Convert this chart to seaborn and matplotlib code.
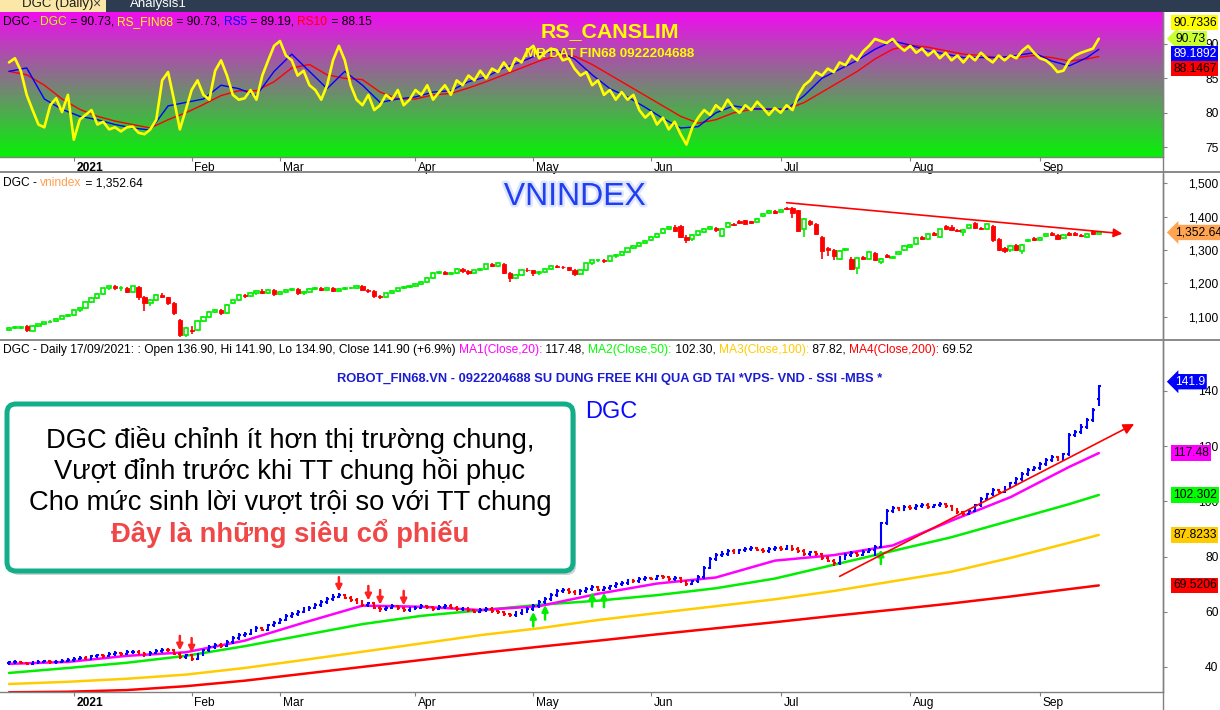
import numpy as np
import pandas as pd
import matplotlib
matplotlib.use('Agg')
import matplotlib.pyplot as plt
import seaborn as sns
from matplotlib.colors import LinearSegmentedColormap
from matplotlib.patches import FancyBboxPatch, Rectangle
from matplotlib.lines import Line2D
from matplotlib.text import Annotation
from matplotlib.transforms import IdentityTransform, ScaledTranslation
import matplotlib.patheffects as pe

# ------------------------------------------------------------------ data
holidays = ['2021-01-01', '2021-02-10', '2021-02-11', '2021-02-12', '2021-02-15',
            '2021-02-16', '2021-04-21', '2021-04-30', '2021-05-03', '2021-09-02', '2021-09-03']
start_date, end_date = '2020-12-17', '2021-10-01'

rs_fin68 = [87.3, 87.9, 86.1, 82.6, 80.4, 78.3, 77.9, 81.1, 82.1, 80.1,
            82.6, 76.1, 79.0, 79.7, 80.4, 78.3, 78.7, 77.6, 77.9, 77.3,
            77.9, 78.0, 77.1, 76.9, 77.6, 79.0, 84.7, 85.9, 81.9, 77.6,
            80.4, 83.3, 84.7, 82.6, 81.9, 86.1, 87.6, 85.4, 82.6, 81.9,
            82.1, 83.3, 81.9, 85.4, 87.6, 89.7, 90.4, 88.3, 87.6, 85.4,
            86.1, 84.0, 83.3, 81.9, 84.0, 87.6, 89.7, 87.6, 84.0, 81.9,
            81.1, 82.6, 80.4, 81.1, 82.6, 81.9, 83.3, 81.1, 81.9, 83.3,
            82.6, 84.0, 81.9, 83.0, 84.0, 82.6, 84.7, 84.0, 85.4, 84.7,
            86.1, 85.0, 86.4, 85.9, 87.3, 86.1, 87.9, 87.3, 89.0, 89.7,
            87.9, 88.7, 89.3, 89.0, 87.6, 87.9, 86.4, 85.4, 85.9, 84.0,
            84.7, 82.6, 83.3, 81.9, 83.0, 81.9, 82.6, 80.4, 79.3, 80.1,
            78.3, 79.3, 77.6, 78.7, 76.9, 75.4, 77.9, 79.3, 80.4, 79.7,
            81.1, 80.4, 81.9, 80.7, 80.0, 81.1, 80.4, 81.6, 80.7, 79.7,
            80.7, 80.0, 81.1, 80.4, 82.6, 84.0, 84.7, 85.9, 85.4, 86.4,
            85.9, 87.3, 86.9, 88.3, 87.6, 88.9, 89.7, 90.7, 90.4, 90.1,
            90.7, 89.7, 89.0, 89.7, 88.7, 89.3, 88.3, 89.0, 87.9, 88.7,
            87.6, 88.3, 87.3, 88.3, 87.6, 88.7, 87.9, 87.3, 88.3, 87.6,
            88.3, 87.9, 89.0, 89.7, 88.7, 87.9, 87.6, 86.9, 85.9, 86.1,
            87.6, 88.3, 88.7, 89.0, 89.3, 90.73]
# RS5 / RS10 sampled every third session (+ last session)
rs5 = [86, 86.5, 82, 80.5, 79.5, 79, 78.3, 77.8, 77.5, 81,
       81.5, 82, 84, 83.5, 82.5, 86, 88.5, 86, 83.5, 86,
       84, 81.5, 82, 82.3, 83, 83.2, 84.5, 85.2, 86.5, 87.4,
       88.5, 89, 87.8, 85.5, 83.5, 82.3, 80.8, 79.2, 77.8, 78,
       80, 81, 80.6, 80.5, 80.5, 82.5, 85, 86.3, 87.6, 89.2,
       90.4, 89.8, 89, 88.5, 88, 88, 88, 88.3, 88.7, 87.5,
       86.8, 88, 89.19]
rs10 = [86, 85.5, 84, 82, 80.5, 79.5, 78.8, 78.3, 77.8, 79,
        80, 81.2, 82.5, 83.2, 83.2, 84.5, 86.5, 87, 85.5, 85,
        84.8, 83, 82, 82, 82.6, 82.8, 83.6, 84.5, 85.5, 86.5,
        87.5, 88.3, 88.2, 87, 85.5, 84, 82.5, 81, 79.5, 78.5,
        79, 80, 80.5, 80.6, 80.5, 81.5, 83, 84.5, 86, 87.8,
        89.2, 89.8, 89.5, 89, 88.5, 88.3, 88, 88, 88.3, 88,
        87.5, 87.8, 88.15]

vn_open = [1060, 1066, 1067, 1072, 1058, 1072, 1077, 1083, 1088, 1094,
           1102, 1105, 1120, 1125, 1144, 1156, 1168, 1185, 1192, 1185,
           1187, 1175, 1190, 1160, 1140, 1150, 1165, 1158, 1140, 1090,
           1045, 1060, 1060, 1088, 1100, 1114, 1120, 1110, 1140, 1150,
           1165, 1162, 1170, 1178, 1172, 1180, 1168, 1175, 1180, 1183,
           1170, 1174, 1184, 1186, 1180, 1187, 1178, 1183, 1185, 1187,
           1192, 1180, 1178, 1162, 1160, 1170, 1178, 1185, 1188, 1191,
           1197, 1204, 1216, 1231, 1233, 1229, 1232, 1243, 1236, 1230,
           1239, 1244, 1257, 1253, 1258, 1232, 1216, 1225, 1240, 1239,
           1230, 1234, 1244, 1251, 1249, 1248, 1240, 1228, 1241, 1260,
           1269, 1270, 1266, 1281, 1284, 1295, 1305, 1313, 1322, 1330,
           1339, 1350, 1364, 1370, 1372, 1340, 1332, 1345, 1355, 1362,
           1367, 1342, 1369, 1377, 1387, 1389, 1386, 1384, 1401, 1411,
           1416, 1413, 1427, 1425, 1419, 1364, 1386, 1379, 1339, 1307,
           1301, 1272, 1300, 1274, 1246, 1279, 1272, 1292, 1264, 1286,
           1276, 1288, 1300, 1310, 1317, 1339, 1333, 1352, 1338, 1372,
           1370, 1361, 1354, 1366, 1382, 1365, 1362, 1373, 1334, 1307,
           1300, 1316, 1296, 1326, 1336, 1330, 1342, 1352, 1346, 1335,
           1352, 1352, 1346, 1338, 1357, 1349]
vn_close = [1066, 1067, 1070, 1060, 1072, 1077, 1083, 1085, 1094, 1102,
            1104, 1120, 1125, 1144, 1156, 1168, 1185, 1192, 1185, 1187,
            1175, 1191, 1160, 1140, 1150, 1165, 1160, 1140, 1110, 1045,
            1066, 1057, 1088, 1100, 1114, 1120, 1110, 1135, 1150, 1165,
            1162, 1170, 1178, 1172, 1180, 1168, 1175, 1180, 1183, 1170,
            1174, 1184, 1186, 1180, 1187, 1178, 1183, 1185, 1187, 1192,
            1180, 1178, 1162, 1160, 1170, 1178, 1185, 1188, 1191, 1197,
            1204, 1216, 1231, 1233, 1229, 1232, 1243, 1236, 1230, 1239,
            1244, 1257, 1253, 1260, 1232, 1216, 1225, 1240, 1239, 1230,
            1234, 1244, 1251, 1249, 1248, 1240, 1228, 1241, 1260, 1269,
            1270, 1266, 1281, 1284, 1295, 1305, 1313, 1322, 1328, 1339,
            1349, 1364, 1370, 1358, 1340, 1330, 1345, 1356, 1364, 1369,
            1359, 1364, 1381, 1374, 1382, 1379, 1382, 1394, 1408, 1416,
            1410, 1419, 1422, 1412, 1356, 1394, 1377, 1349, 1296, 1299,
            1281, 1297, 1302, 1244, 1276, 1272, 1294, 1269, 1274, 1278,
            1279, 1294, 1312, 1316, 1336, 1334, 1348, 1344, 1362, 1364,
            1359, 1356, 1360, 1374, 1365, 1362, 1378, 1331, 1299, 1297,
            1312, 1301, 1316, 1331, 1331, 1336, 1348, 1344, 1334, 1345,
            1346, 1344, 1341, 1349, 1347, 1352.64]
vn_high = [1068, 1071, 1073, 1074, 1074, 1079, 1085, 1089, 1097, 1104,
           1107, 1122, 1128, 1146, 1159, 1170, 1187, 1195, 1196, 1191,
           1190, 1193, 1192, 1163, 1154, 1168, 1170, 1160, 1143, 1094,
           1070, 1072, 1090, 1103, 1116, 1124, 1122, 1137, 1153, 1167,
           1169, 1173, 1181, 1182, 1183, 1182, 1178, 1183, 1186, 1185,
           1177, 1186, 1189, 1188, 1189, 1189, 1186, 1188, 1190, 1195,
           1194, 1183, 1180, 1166, 1172, 1180, 1187, 1191, 1194, 1200,
           1207, 1218, 1233, 1237, 1236, 1235, 1245, 1246, 1239, 1241,
           1247, 1259, 1262, 1263, 1260, 1235, 1228, 1242, 1245, 1241,
           1237, 1246, 1254, 1256, 1253, 1250, 1243, 1243, 1262, 1271,
           1274, 1273, 1283, 1287, 1297, 1307, 1316, 1325, 1331, 1341,
           1351, 1366, 1373, 1374, 1374, 1344, 1347, 1358, 1366, 1372,
           1369, 1366, 1383, 1380, 1390, 1391, 1388, 1396, 1410, 1419,
           1421, 1422, 1430, 1428, 1421, 1396, 1389, 1381, 1341, 1310,
           1303, 1299, 1305, 1278, 1278, 1282, 1296, 1294, 1276, 1288,
           1281, 1296, 1314, 1318, 1338, 1341, 1350, 1354, 1364, 1374,
           1376, 1364, 1362, 1376, 1384, 1368, 1380, 1375, 1336, 1309,
           1314, 1318, 1318, 1333, 1338, 1338, 1350, 1354, 1348, 1347,
           1354, 1354, 1348, 1351, 1359, 1356]
vn_low = [1057, 1062, 1064, 1055, 1056, 1069, 1074, 1080, 1085, 1092,
          1099, 1103, 1114, 1123, 1141, 1152, 1166, 1181, 1180, 1178,
          1170, 1172, 1150, 1118, 1133, 1146, 1155, 1135, 1105, 1038,
          1040, 1048, 1058, 1085, 1097, 1110, 1104, 1108, 1137, 1147,
          1157, 1158, 1166, 1168, 1169, 1162, 1165, 1172, 1177, 1165,
          1166, 1172, 1180, 1176, 1177, 1174, 1175, 1180, 1182, 1184,
          1176, 1172, 1157, 1152, 1157, 1167, 1175, 1182, 1185, 1188,
          1194, 1201, 1213, 1227, 1224, 1225, 1229, 1232, 1225, 1227,
          1236, 1241, 1249, 1250, 1228, 1205, 1212, 1222, 1235, 1222,
          1226, 1231, 1240, 1245, 1243, 1236, 1222, 1225, 1238, 1256,
          1265, 1261, 1263, 1277, 1281, 1292, 1302, 1310, 1318, 1326,
          1335, 1347, 1360, 1354, 1335, 1322, 1328, 1342, 1352, 1359,
          1355, 1340, 1366, 1371, 1379, 1376, 1378, 1381, 1398, 1408,
          1407, 1410, 1419, 1395, 1353, 1340, 1371, 1346, 1274, 1281,
          1269, 1269, 1298, 1241, 1227, 1269, 1269, 1266, 1257, 1275,
          1273, 1285, 1297, 1307, 1314, 1331, 1330, 1341, 1335, 1361,
          1356, 1353, 1342, 1363, 1362, 1359, 1359, 1324, 1296, 1292,
          1293, 1298, 1289, 1323, 1328, 1327, 1339, 1341, 1331, 1332,
          1343, 1341, 1338, 1335, 1344, 1346]

dgc_open = [41.4, 41.6, 41.8, 41.5, 41.2, 41.5, 41.8, 42.0, 41.7, 41.9,
            42.2, 42.5, 43.0, 43.4, 43.2, 43.8, 44.2, 44.0, 44.6, 45.0,
            44.7, 45.3, 45.5, 45.0, 44.5, 45.2, 45.8, 46.2, 46.0, 44.8,
            43.5, 44.2, 43.0, 44.5, 46.0, 47.2, 48.0, 47.6, 49.0, 50.5,
            51.5, 52.0, 53.2, 54.0, 53.5, 55.0, 56.0, 57.0, 58.5, 59.0,
            60.0, 60.8, 61.5, 62.5, 63.5, 64.5, 65.5, 66.0, 65.0, 64.2,
            63.5, 62.5, 63.0, 61.5, 60.8, 61.5, 62.0, 61.2, 60.5, 61.0,
            61.5, 62.0, 61.6, 61.0, 61.8, 62.2, 61.5, 60.8, 61.2, 60.5,
            60.0, 60.6, 61.0, 60.2, 59.8, 59.0, 58.8, 59.5, 60.2, 61.0,
            62.0, 63.5, 64.5, 66.0, 67.5, 68.0, 67.2, 66.8, 67.5, 68.2,
            68.8, 68.0, 68.5, 69.2, 70.0, 70.5, 71.2, 71.0, 71.8, 72.2,
            72.0, 72.8, 72.5, 71.8, 72.2, 71.0, 70.2, 71.0, 72.5, 76.0,
            79.0, 80.5, 81.0, 82.0, 81.5, 82.2, 82.8, 83.0, 82.5, 82.0,
            82.8, 83.2, 82.8, 83.5, 82.8, 82.0, 81.0, 81.5, 80.8, 79.5,
            78.5, 77.5, 79.5, 80.5, 81.2, 80.6, 81.8, 82.5, 83.5, 92.0,
            96.5, 97.5, 97.0, 98.0, 97.5, 98.2, 98.8, 98.0, 98.5, 99.0,
            98.2, 97.0, 96.0, 95.5, 96.5, 98.5, 101.0, 102.5, 104.0, 103.5,
            105.0, 106.5, 108.0, 110.0, 111.5, 112.0, 113.5, 115.0, 116.0, 115.2,
            117.0, 124.0, 125.0, 127.0, 129.5, 136.9]
dgc_close = [41.6, 41.8, 41.5, 41.2, 41.5, 41.8, 42.0, 41.7, 41.9, 42.2,
             42.5, 43.0, 43.4, 43.2, 43.8, 44.2, 44.0, 44.6, 45.0, 44.7,
             45.3, 45.5, 45.0, 44.5, 45.2, 45.8, 46.2, 46.0, 44.8, 43.5,
             44.2, 43.0, 44.5, 46.0, 47.2, 48.0, 47.6, 49.0, 50.5, 51.5,
             52.0, 53.2, 54.0, 53.5, 55.0, 56.0, 57.0, 58.5, 59.0, 60.0,
             60.8, 61.5, 62.5, 63.5, 64.5, 65.5, 66.0, 65.0, 64.2, 63.5,
             62.5, 63.0, 61.5, 60.8, 61.5, 62.0, 61.2, 60.5, 61.0, 61.5,
             62.0, 61.6, 61.0, 61.8, 62.2, 61.5, 60.8, 61.2, 60.5, 60.0,
             60.6, 61.0, 60.2, 59.8, 59.0, 58.8, 59.5, 60.2, 61.0, 62.0,
             63.5, 64.5, 66.0, 67.5, 68.0, 67.2, 66.8, 67.5, 68.2, 68.8,
             68.0, 68.5, 69.2, 70.0, 70.5, 71.2, 71.0, 71.8, 72.2, 72.0,
             72.8, 72.5, 71.8, 72.2, 71.0, 70.2, 71.0, 72.5, 76.0, 79.0,
             80.5, 81.0, 82.0, 81.5, 82.2, 82.8, 83.0, 82.5, 82.0, 82.8,
             83.2, 82.8, 83.5, 82.8, 82.0, 81.0, 81.5, 80.8, 79.5, 78.5,
             77.5, 79.5, 80.5, 81.2, 80.6, 81.8, 82.5, 83.5, 92.0, 96.5,
             97.5, 97.0, 98.0, 97.5, 98.2, 98.8, 98.0, 98.5, 99.0, 98.2,
             97.0, 96.0, 95.5, 96.5, 98.5, 101.0, 102.5, 104.0, 103.5, 105.0,
             106.5, 108.0, 110.0, 111.5, 112.0, 113.5, 115.0, 116.0, 115.2, 117.0,
             124.0, 125.0, 127.0, 129.5, 133.0, 141.9]
dgc_high = [41.9, 42.0, 41.9, 41.6, 41.8, 42.0, 42.3, 42.1, 42.1, 42.4,
            42.8, 43.3, 43.7, 43.6, 44.1, 44.5, 44.4, 44.9, 45.3, 45.1,
            45.6, 45.9, 45.6, 45.2, 45.5, 46.1, 46.6, 46.4, 46.1, 45.2,
            44.5, 44.4, 44.8, 46.3, 47.5, 48.3, 48.2, 49.3, 50.8, 51.8,
            52.4, 53.5, 54.3, 54.2, 55.3, 56.3, 57.3, 58.8, 59.4, 60.3,
            61.2, 61.8, 62.8, 63.8, 64.8, 65.9, 66.5, 66.2, 65.3, 64.5,
            63.8, 63.3, 63.2, 61.8, 61.8, 62.3, 62.2, 61.5, 61.3, 61.8,
            62.3, 62.2, 61.8, 62.1, 62.5, 62.4, 61.7, 61.5, 61.4, 60.7,
            60.9, 61.3, 61.2, 60.4, 60.0, 59.3, 59.8, 60.5, 61.3, 62.3,
            63.8, 64.8, 66.3, 67.8, 68.4, 68.2, 67.4, 67.8, 68.5, 69.2,
            69.0, 68.8, 69.5, 70.3, 70.8, 71.5, 71.4, 72.1, 72.5, 72.4,
            73.1, 73.0, 72.7, 72.5, 72.4, 71.2, 71.3, 72.8, 76.3, 79.3,
            80.8, 81.5, 82.3, 82.2, 82.5, 83.1, 83.4, 83.2, 82.7, 83.1,
            83.5, 83.4, 83.8, 83.7, 83.0, 82.2, 81.8, 81.7, 81.0, 79.8,
            78.8, 79.8, 80.8, 81.5, 81.4, 82.1, 82.8, 83.8, 92.3, 96.8,
            97.8, 97.7, 98.3, 98.2, 98.5, 99.1, 99.0, 98.8, 99.3, 99.2,
            98.4, 97.2, 96.2, 96.8, 98.8, 101.3, 102.8, 104.3, 104.2, 105.3,
            106.8, 108.3, 110.3, 111.8, 112.5, 113.8, 115.3, 116.5, 116.2, 117.3,
            124.5, 125.5, 127.5, 130.0, 133.5, 141.9]
dgc_low = [41.2, 41.4, 41.3, 40.9, 41.0, 41.3, 41.6, 41.5, 41.5, 41.7,
           42.0, 42.3, 42.8, 42.9, 43.0, 43.6, 43.7, 43.8, 44.4, 44.4,
           44.5, 45.0, 44.7, 44.0, 44.3, 45.0, 45.5, 45.6, 44.5, 43.2,
           43.2, 42.6, 42.8, 44.3, 45.8, 46.9, 47.2, 47.4, 48.8, 50.2,
           51.2, 51.8, 53.0, 53.2, 53.3, 54.8, 55.8, 56.8, 58.2, 58.7,
           59.7, 60.5, 61.2, 62.2, 63.2, 64.2, 65.2, 64.8, 63.9, 63.2,
           62.2, 62.2, 61.2, 60.4, 60.5, 61.2, 60.9, 60.2, 60.2, 60.8,
           61.2, 61.3, 60.7, 60.8, 61.5, 61.2, 60.5, 60.5, 60.2, 59.7,
           59.8, 60.3, 59.9, 59.5, 58.7, 58.4, 58.5, 59.2, 59.9, 60.7,
           61.7, 63.2, 64.2, 65.7, 67.2, 66.9, 66.5, 66.5, 67.2, 67.9,
           67.7, 67.7, 68.2, 68.9, 69.7, 70.2, 70.6, 70.7, 71.5, 71.7,
           71.8, 72.2, 71.5, 71.5, 70.7, 69.8, 70.0, 70.8, 72.3, 75.8,
           78.7, 80.2, 80.7, 81.2, 81.2, 81.9, 82.5, 82.2, 81.7, 81.8,
           82.5, 82.5, 82.6, 82.5, 81.7, 80.7, 80.7, 80.5, 79.2, 78.2,
           76.8, 77.2, 79.2, 80.2, 80.3, 80.4, 81.5, 80.5, 83.3, 91.8,
           96.2, 96.7, 96.8, 97.2, 97.3, 98.0, 97.7, 97.8, 98.3, 97.9,
           96.7, 95.7, 95.0, 95.3, 96.3, 98.3, 100.7, 102.2, 103.2, 103.3,
           104.8, 106.2, 107.8, 109.7, 111.2, 111.8, 113.2, 114.7, 114.8, 115.0,
           116.8, 123.5, 124.7, 126.5, 129.0, 134.9]
# moving averages sampled every ten sessions (+ last session)
ma20 = [41.1, 41.8, 44.0, 45.3, 49.5, 56.0, 62.2, 61.8, 60.6, 62.0,
        66.5, 70.2, 72.4, 78.5, 80.5, 84.0, 93.0, 101.5, 112.5, 117.48]
ma50 = [37.8, 39.6, 41.5, 44.0, 47.5, 51.5, 55.5, 58.5, 60.5, 62.5,
        64.0, 66.0, 68.5, 72.0, 77.0, 82.0, 87.0, 93.0, 99.0, 102.302]
ma100 = [33.8, 34.6, 35.7, 37.2, 39.6, 42.5, 45.5, 48.5, 51.5, 54.0,
         57.0, 59.5, 62.0, 64.5, 67.5, 71.0, 74.5, 79.5, 85.0, 87.8233]
ma200 = [30.8, 31.0, 31.6, 33.0, 35.0, 37.5, 40.0, 42.5, 45.0, 47.3,
         49.5, 51.8, 54.0, 56.2, 58.5, 60.7, 63.0, 65.5, 68.2, 69.5206]

sell_signal_dates = ['2021-01-28', '2021-02-01', '2021-03-15', '2021-03-22', '2021-03-24', '2021-03-30']
buy_signal_dates = ['2021-05-04', '2021-05-06', '2021-05-18', '2021-05-20', '2021-07-26']
vn_trend_dates, vn_trend_vals = ['2021-07-02', '2021-09-23'], [1442, 1349]
dgc_trend_dates, dgc_trend_vals = ['2021-07-15', '2021-09-27'], [72.8, 128.0]

rs_ticks = [75, 80, 85, 90]
vn_ticks = [1100, 1200, 1300, 1400, 1500]
dgc_ticks = [40, 60, 80, 100, 120, 140]

box_lines = ['DGC điều chỉnh ít hơn thị trường chung,',
             'Vượt đỉnh trước khi TT chung hồi phục',
             'Cho mức sinh lời vượt trội so với TT chung']
box_red_line = 'Đây là những siêu cổ phiếu'

# ------------------------------------------------------------------ setup
sns.set_theme(style='white')
plt.rcParams['font.family'] = ['Liberation Sans', 'DejaVu Sans']
plt.rcParams['axes.unicode_minus'] = False

cal = pd.bdate_range(start_date, end_date, freq='C', holidays=holidays)
N = len(dgc_close)
xall = np.arange(len(cal))
x = xall[:N]
pos = {d: i for i, d in enumerate(cal)}
def dpos(d):
    return pos[pd.Timestamp(d)]

W, H = 1220, 710
FS = 8.64
GRAY = '#808080'
fig = plt.figure(figsize=(W / 100, H / 100), dpi=100)
fig.patch.set_facecolor('white')

def fpos(top, bottom, left=0, right=1163):
    return [left / W, 1 - bottom / H, (right - left) / W, (bottom - top) / H]

ax1 = fig.add_axes(fpos(12, 157))
ax2 = fig.add_axes(fpos(174, 338))
ax3 = fig.add_axes(fpos(341, 692))
XMIN, XMAX = -1.53, 195.9
Y1 = (73.6, 94.6)
Y2 = (1036, 1528)
Y3 = (30.9, 158.1)
for ax, yl in ((ax1, Y1), (ax2, Y2), (ax3, Y3)):
    ax.set_zorder(5)
    ax.set_xlim(XMIN, XMAX)
    ax.set_ylim(*yl)
    ax.set_facecolor('white')
    for s in ax.spines.values():
        s.set_visible(False)
    ax.spines['right'].set_visible(True)
    ax.spines['right'].set_color(GRAY)
    ax.spines['right'].set_linewidth(1.0)
    ax.grid(False)
for ax in (ax1, ax3):
    ax.spines['bottom'].set_visible(True)
    ax.spines['bottom'].set_color(GRAY)
    ax.spines['bottom'].set_linewidth(1.0)

# ------------------------------------------------------------------ panel 1: RS
cmap = LinearSegmentedColormap.from_list('rs', ['#06f206', '#f00cf0'])
ax1.imshow(np.linspace(0, 1, 256).reshape(-1, 1), aspect='auto', cmap=cmap, origin='lower',
           extent=[XMIN, XMAX, Y1[0], Y1[1]], zorder=0, interpolation='bilinear')
rs_idx = list(range(0, N, 3)) + [N - 1]
sns.lineplot(x=x[rs_idx], y=rs10, ax=ax1, color='#ff0000', linewidth=1.0, zorder=3, legend=False)
sns.lineplot(x=x[rs_idx], y=rs5, ax=ax1, color='#0000ff', linewidth=1.0, zorder=3, legend=False)
sns.lineplot(x=x, y=rs_fin68, ax=ax1, color='#ffff00', linewidth=1.9, zorder=4, legend=False)

# ------------------------------------------------------------------ panel 2: VNINDEX candles
vo, vc, vh, vl = map(np.array, (vn_open, vn_close, vn_high, vn_low))
vup = vc >= vo
ax2.vlines(x, vl, vh, colors=np.where(vup, '#00ee00', '#ff0000'), linewidth=1.2, zorder=2)
blo = np.minimum(vo, vc)
bh = np.maximum(np.abs(vc - vo), 1.8)
ax2.bar(x[vup], bh[vup], bottom=blo[vup], width=0.72, facecolor='white', edgecolor='#00ee00',
        linewidth=1.2, zorder=3)
ax2.bar(x[~vup], bh[~vup], bottom=blo[~vup], width=0.72, facecolor='#ff0000', edgecolor='#ff0000',
        linewidth=0.6, zorder=3)
ax2.annotate('', xy=(dpos(vn_trend_dates[1]), vn_trend_vals[1]),
             xytext=(dpos(vn_trend_dates[0]), vn_trend_vals[0]),
             arrowprops=dict(arrowstyle='-|>', color='#ff0000', lw=1.2, mutation_scale=13, shrinkA=0, shrinkB=0),
             zorder=6)

# ------------------------------------------------------------------ panel 3: DGC bars + MAs
ma_idx = list(range(0, N, 10)) + [N - 1]
sns.lineplot(x=x[ma_idx], y=ma200, ax=ax3, color='#ff0000', linewidth=1.8, zorder=2, legend=False)
sns.lineplot(x=x[ma_idx], y=ma100, ax=ax3, color='#ffcc00', linewidth=1.8, zorder=2, legend=False)
sns.lineplot(x=x[ma_idx], y=ma50, ax=ax3, color='#00ee00', linewidth=1.8, zorder=2, legend=False)
sns.lineplot(x=x[ma_idx], y=ma20, ax=ax3, color='#ff00ff', linewidth=1.8, zorder=2, legend=False)

do, dc, dh, dl = map(np.array, (dgc_open, dgc_close, dgc_high, dgc_low))
dcol = np.where(dc >= do, '#0000ff', '#ff0000')
ax3.vlines(x, dl - 0.35, dh + 0.35, colors=dcol, linewidth=1.5, zorder=4)
ax3.hlines(do, x - 0.32, x, colors=dcol, linewidth=1.5, zorder=4)
ax3.hlines(dc, x, x + 0.32, colors=dcol, linewidth=1.5, zorder=4)

for d in sell_signal_dates:
    i = dpos(d)
    ax3.annotate('', xy=(x[i], dh[i]), xytext=(0, 12), textcoords='offset points',
                 arrowprops=dict(arrowstyle='-|>', color='#ff2020', lw=1.8, mutation_scale=9,
                                 shrinkA=0, shrinkB=1.5), zorder=6)
for d in buy_signal_dates:
    i = dpos(d)
    ax3.annotate('', xy=(x[i], dl[i]), xytext=(0, -12), textcoords='offset points',
                 arrowprops=dict(arrowstyle='-|>', color='#00ee00', lw=1.8, mutation_scale=9,
                                 shrinkA=0, shrinkB=1.5), zorder=6)
ax3.annotate('', xy=(dpos(dgc_trend_dates[1]), dgc_trend_vals[1]),
             xytext=(dpos(dgc_trend_dates[0]), dgc_trend_vals[0]),
             arrowprops=dict(arrowstyle='-|>', color='#ff0000', lw=1.2, mutation_scale=16, shrinkA=0, shrinkB=0),
             zorder=6)

# ------------------------------------------------------------------ axes ticks
def style_y(ax, ticks, fmt):
    ax.yaxis.tick_right()
    ax.set_yticks(ticks)
    ax.set_yticklabels([fmt(t) for t in ticks])
    ax.tick_params(axis='y', which='both', right=True, left=False, direction='out', length=3,
                   width=0.8, color=GRAY, pad=37, labelsize=FS, labelcolor='black')
    for lab in ax.get_yticklabels():
        lab.set_ha('right')
    ax.set_ylim(*ax.get_ylim())

style_y(ax1, rs_ticks, lambda t: f'{t:.0f}')
style_y(ax2, vn_ticks, lambda t: f'{t:,.0f}')
style_y(ax3, dgc_ticks, lambda t: f'{t:.0f}')

month_starts = [i for i in range(1, N) if cal[i].month != cal[i - 1].month]
month_labels = ['2021' if cal[i].month == 1 else cal[i].strftime('%b') for i in month_starts]
offset = ScaledTranslation(2 / 72, 0, fig.dpi_scale_trans)
for ax in (ax1, ax3):
    ax.set_xticks(x[month_starts])
    ax.set_xticklabels(month_labels)
    ax.tick_params(axis='x', bottom=True, direction='out', length=3, width=0.8, color=GRAY,
                   pad=0.5, labelsize=FS, labelcolor='black')
    for lab in ax.get_xticklabels():
        lab.set_ha('left')
        lab.set_transform(lab.get_transform() + offset)
        if lab.get_text() == '2021':
            lab.set_fontweight('bold')
ax2.set_xticks([])
for ax in (ax1, ax2, ax3):
    ax.set_xlabel('')
    ax.set_ylabel('')

# ------------------------------------------------------------------ frame lines / tab bar
fig.add_artist(Line2D([0, 1], [1 - 172 / H] * 2, color=GRAY, lw=1.3, transform=fig.transFigure, zorder=6))
fig.add_artist(Line2D([0, 1], [1 - 340 / H] * 2, color=GRAY, lw=1.3, transform=fig.transFigure, zorder=6))
fig.add_artist(Line2D([1163 / W] * 2, [0, 1 - 12 / H], color=GRAY, lw=1.0, transform=fig.transFigure, zorder=6))
fig.add_artist(Rectangle((0, 1 - 12 / H), 1, 12 / H, transform=fig.transFigure, facecolor='#2e3c51',
                         edgecolor='none', zorder=1))
fig.add_artist(Rectangle((0, 1 - 12 / H), 106 / W, 12 / H, transform=fig.transFigure, facecolor='#fbe8a8',
                         edgecolor='none', zorder=1.5))
fig.text(22 / W, 1 - 4 / H, 'DGC (Daily)', fontsize=9.5, color='#1a1a1a', va='center', ha='left', zorder=2)
fig.text(92 / W, 1 - 4 / H, '×', fontsize=10, color='#444444', va='center', ha='left', zorder=2)
fig.text(130 / W, 1 - 4 / H, 'Analysis1', fontsize=9.5, color='white', va='center', ha='left', zorder=2)

# ------------------------------------------------------------------ header texts (multicolour)
def rainbow(x_px, y_px, parts, fs=FS):
    t = fig.text(x_px / W, 1 - y_px / H, parts[0][0], color=parts[0][1], fontsize=fs,
                 va='center', ha='left', zorder=20)
    for s, c in parts[1:]:
        a = Annotation(s, xy=(1, 0), xycoords=t, va='bottom', ha='left', color=c,
                       fontsize=fs, annotation_clip=False)
        a.set_zorder(20)
        fig.add_artist(a)
        t = a
    return t

rainbow(3, 22, [('DGC - ', 'black'), ('DGC', '#c8ff00'), (' = 90.73, ', 'black'),
                ('RS_FIN68', '#ffff00'), (' = 90.73, ', 'black'), ('RS5', '#0000ff'),
                (' = 89.19, ', 'black'), ('RS10', '#ff0000'), (' = 88.15', 'black')])
rainbow(3, 183, [('DGC - ', 'black'), ('vnindex', '#ffa050'), (' = 1,352.64', 'black')])
rainbow(3, 350, [('DGC - Daily 17/09/2021: : Open 136.90, Hi 141.90, Lo 134.90, Close 141.90 (+6.9%) ', 'black'),
                 ('MA1(Close,20):', '#ff00ff'), (' 117.48, ', 'black'),
                 ('MA2(Close,50):', '#00ff00'), (' 102.30, ', 'black'),
                 ('MA3(Close,100):', '#ffcc00'), (' 87.82, ', 'black'),
                 ('MA4(Close,200):', '#ff0000'), (' 69.52', 'black')])

fig.text(610 / W, 1 - 32 / H, 'RS_CANSLIM', fontsize=15.4, fontweight='bold', color='#ffff00',
         ha='center', va='center', zorder=20)
fig.text(610 / W, 1 - 54 / H, 'MR DAT FIN68 0922204688', fontsize=9.6, fontweight='bold', color='#ffff00',
         ha='center', va='center', zorder=20)
fig.text(575 / W, 1 - 197 / H, 'VNINDEX', fontsize=23, color='#2040f0', ha='center', va='center', zorder=20,
         path_effects=[pe.withStroke(linewidth=3.5, foreground='#dde4ff')])
fig.text(610 / W, 1 - 379 / H, 'ROBOT_FIN68.VN - 0922204688 SU DUNG FREE KHI QUA GD TAI *VPS- VND - SSI -MBS *',
         fontsize=9.3, fontweight='bold', color='#1c1cd0', ha='center', va='center', zorder=20)
fig.text(611 / W, 1 - 412 / H, 'DGC', fontsize=17, color='#0a0aff', ha='center', va='center', zorder=20)

# ------------------------------------------------------------------ right-side value tags
def tag(ax, yval, text, fc, tc='black', dy_px=0.0, arrow=False):
    style = 'larrow,pad=0.14' if arrow else 'square,pad=0.14'
    dx_px = 12 if arrow else 10
    ax.annotate(text, xy=(1, yval), xycoords=ax.get_yaxis_transform(),
                xytext=(dx_px * 0.72, -dy_px * 0.72), textcoords='offset points',
                ha='left', va='center', fontsize=FS, color=tc,
                bbox=dict(boxstyle=style, fc=fc, ec='none'), annotation_clip=False, zorder=30)

tag(ax1, 90.73, '90.7336', '#ffff00', dy_px=-16)
tag(ax1, 90.73, '90.73', '#c8ff30', arrow=True)
tag(ax1, 89.19, '89.1892', '#0000ff', tc='white', dy_px=4.5)
tag(ax1, 88.15, '88.1467', '#ff0000', dy_px=12)
tag(ax2, 1352.64, '1,352.64', '#ffa552', arrow=True)
tag(ax3, 141.9, '141.9', '#0000ff', tc='white', dy_px=-4, arrow=True)
tag(ax3, 117.48, '117.48', '#ff00ff')
tag(ax3, 102.302, '102.302', '#00ff00')
tag(ax3, 87.8233, '87.8233', '#ffcc00')
tag(ax3, 69.5206, '69.5206', '#ff0000')

# ------------------------------------------------------------------ annotation box
idt = IdentityTransform()
bx0, by0, bx1, by1 = 7, 404, 573, 571
fig.add_artist(FancyBboxPatch((bx0 + 3, H - by1 - 4), bx1 - bx0, by1 - by0,
                              boxstyle='round,pad=0,rounding_size=9', transform=idt,
                              facecolor='#9a9a9a', edgecolor='none', alpha=0.45, zorder=21))
fig.add_artist(FancyBboxPatch((bx0, H - by1), bx1 - bx0, by1 - by0,
                              boxstyle='round,pad=0,rounding_size=9', transform=idt,
                              facecolor='white', edgecolor='#12ae8a', linewidth=3.6, zorder=22))
for k, line in enumerate(box_lines):
    fig.text(290 / W, 1 - (440 + 31.3 * k) / H, line, fontsize=19.7, color='black',
             ha='center', va='center', zorder=23)
fig.text(290 / W, 1 - 534 / H, box_red_line, fontsize=19.7, fontweight='bold', color='#f04848',
         ha='center', va='center', zorder=23)

fig.savefig('out.png', dpi=100, facecolor='white')
